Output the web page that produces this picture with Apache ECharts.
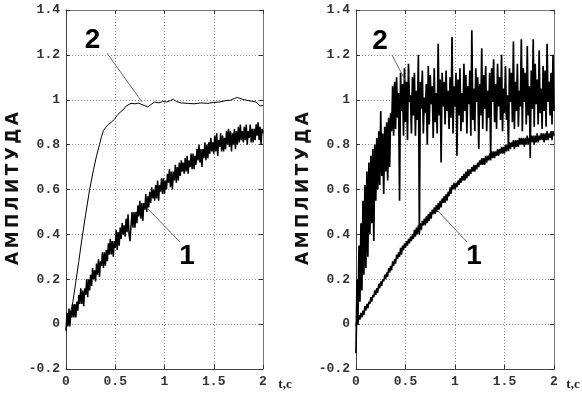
<!DOCTYPE html>
<html>
<head>
<meta charset="utf-8">
<script src="https://cdn.jsdelivr.net/npm/echarts@6/dist/echarts.min.js"></script>
<style>
html,body{margin:0;padding:0;background:#fff}
#main{width:582px;height:395px}
</style>
</head>
<body>
<div id="main"></div>
<script>
// sample step of the recorded signals, seconds
var tStep = 0.01;

// left panel, curve 1 (noisy, slow)
var left1 = [
 -0.03,0.05,-0.01,0.07,-0.01,0.06,0.03,0.09,0.03,0.09,
 0.03,0.10,0.06,0.13,0.09,0.16,0.09,0.15,0.08,0.16,
 0.13,0.20,0.12,0.20,0.15,0.22,0.17,0.25,0.20,0.24,
 0.19,0.27,0.22,0.29,0.21,0.28,0.26,0.32,0.25,0.32,
 0.26,0.33,0.28,0.36,0.31,0.38,0.31,0.37,0.30,0.37,
 0.34,0.42,0.33,0.41,0.35,0.43,0.38,0.45,0.40,0.44,
 0.39,0.47,0.41,0.49,0.40,0.37,0.44,0.50,0.43,0.50,
 0.43,0.50,0.45,0.53,0.48,0.55,0.47,0.54,0.46,0.54,
 0.51,0.58,0.50,0.57,0.52,0.59,0.54,0.61,0.56,0.60,
 0.55,0.62,0.56,0.64,0.55,0.62,0.59,0.65,0.58,0.65,
 0.58,0.64,0.60,0.67,0.63,0.69,0.61,0.68,0.60,0.68,
 0.64,0.71,0.63,0.70,0.64,0.72,0.66,0.73,0.68,0.72,
 0.67,0.74,0.68,0.75,0.67,0.73,0.70,0.76,0.69,0.76,
 0.69,0.75,0.71,0.78,0.73,0.80,0.72,0.78,0.70,0.78,
 0.74,0.81,0.73,0.80,0.74,0.81,0.76,0.83,0.77,0.81,
 0.76,0.84,0.77,0.85,0.75,0.82,0.79,0.85,0.77,0.84,
 0.77,0.83,0.78,0.86,0.80,0.87,0.79,0.86,0.77,0.85,
 0.80,0.87,0.78,0.86,0.80,0.88,0.81,0.89,0.82,0.86,
 0.81,0.88,0.82,0.89,0.80,0.86,0.83,0.89,0.81,0.87,
 0.81,0.87,0.82,0.89,0.84,0.90,0.82,0.88,0.80,0.87,
 0.85
];

// left panel, curve 2 (smooth, fast) as [t, value]
var left2 = [
 [0,-0.02],[0.03,0.02],[0.07,0.10],[0.10,0.19],[0.13,0.28],[0.16,0.375],
 [0.20,0.49],[0.24,0.60],[0.28,0.69],[0.31,0.75],[0.34,0.80],[0.36,0.835],
 [0.38,0.862],[0.40,0.875],[0.43,0.89],[0.46,0.90],[0.49,0.912],[0.52,0.93],
 [0.55,0.945],[0.58,0.955],[0.61,0.972],[0.63,0.98],[0.66,0.984],[0.70,0.982],
 [0.74,0.985],[0.77,0.978],[0.80,0.974],[0.83,0.968],[0.86,0.978],[0.90,0.99],
 [0.94,0.986],[0.98,0.992],[1.02,0.99],[1.06,0.996],[1.09,1.002],[1.12,0.992],
 [1.17,0.986],[1.23,0.984],[1.30,0.982],[1.37,0.986],[1.44,0.984],[1.50,0.988],
 [1.56,0.99],[1.62,0.996],[1.67,0.998],[1.71,1.006],[1.74,1.01],[1.78,1.004],
 [1.83,0.998],[1.88,0.994],[1.93,0.99],[1.97,0.972],[2.0,0.975]
];

// right panel, curve 1 (noisy, slow)
var right1 = [
 -0.01,0.02,0.00,0.04,0.02,0.05,0.03,0.06,0.04,0.08,
 0.06,0.09,0.07,0.10,0.09,0.12,0.10,0.13,0.12,0.15,
 0.13,0.16,0.14,0.18,0.16,0.19,0.17,0.20,0.19,0.22,
 0.20,0.23,0.21,0.25,0.23,0.26,0.24,0.28,0.26,0.29,
 0.27,0.31,0.29,0.32,0.30,0.34,0.31,0.35,0.33,0.36,
 0.34,0.37,0.35,0.38,0.36,0.39,0.37,0.40,0.38,0.42,
 0.39,0.43,0.40,0.44,0.41,0.45,0.42,0.46,0.44,0.47,
 0.44,0.48,0.45,0.49,0.46,0.50,0.47,0.51,0.49,0.52,
 0.49,0.53,0.50,0.54,0.51,0.55,0.52,0.56,0.54,0.57,
 0.54,0.58,0.55,0.59,0.57,0.61,0.58,0.62,0.60,0.63,
 0.60,0.63,0.61,0.64,0.62,0.65,0.63,0.66,0.64,0.67,
 0.64,0.68,0.65,0.69,0.66,0.69,0.67,0.70,0.68,0.71,
 0.68,0.71,0.69,0.72,0.70,0.73,0.71,0.74,0.71,0.74,
 0.71,0.75,0.72,0.75,0.73,0.76,0.73,0.77,0.74,0.77,
 0.74,0.77,0.75,0.78,0.75,0.78,0.76,0.79,0.76,0.79,
 0.76,0.80,0.77,0.80,0.78,0.81,0.78,0.81,0.79,0.82,
 0.78,0.82,0.79,0.82,0.79,0.83,0.80,0.83,0.80,0.83,
 0.79,0.83,0.80,0.84,0.80,0.83,0.81,0.84,0.81,0.84,
 0.80,0.84,0.81,0.85,0.81,0.84,0.82,0.85,0.82,0.85,
 0.81,0.85,0.82,0.86,0.82,0.85,0.83,0.86,0.82,0.86,
 0.84
];

// right panel, curve 2 (very noisy, fast)
var right2 = [
 -0.13,0.20,0.02,0.35,0.10,0.45,0.15,0.55,0.22,0.62,
 0.25,0.68,0.30,0.72,0.40,0.75,0.45,0.78,0.37,0.80,
 0.55,0.83,0.60,0.86,0.62,0.95,0.66,0.85,0.58,0.88,
 0.68,0.90,0.64,0.92,0.70,0.94,0.86,1.06,0.84,1.08,
 0.87,1.10,0.92,1.03,0.55,1.12,0.95,1.07,0.84,1.14,
 0.90,1.08,0.82,1.16,0.99,1.02,0.85,1.10,0.93,1.12,
 0.84,1.04,0.91,1.20,0.40,1.08,0.96,1.13,0.85,1.01,
 0.94,1.07,0.80,1.15,0.89,1.11,0.98,1.06,0.83,1.14,
 0.90,1.03,0.85,1.25,0.93,1.09,0.72,1.12,0.97,1.08,
 0.89,1.13,0.95,1.04,0.87,1.10,0.92,1.28,0.85,1.06,
 0.97,1.12,0.75,1.09,0.93,1.14,0.86,1.03,0.90,1.16,
 0.95,1.11,0.85,1.06,0.98,1.13,0.84,1.31,0.91,1.05,
 0.86,1.14,0.99,1.10,0.78,1.07,0.93,1.23,0.87,1.11,
 0.96,1.15,0.86,1.04,0.92,1.12,0.74,1.14,0.99,1.18,
 0.90,1.07,0.87,1.16,0.97,1.10,0.91,1.20,0.86,1.05,
 0.94,1.15,0.91,1.02,0.77,1.14,0.99,1.12,0.90,1.26,
 0.87,1.08,0.95,1.16,0.88,1.04,0.97,1.27,0.86,1.14,
 0.99,1.12,0.89,1.24,0.93,1.06,0.74,1.13,0.96,1.27,
 0.88,1.16,0.98,1.09,0.89,1.22,0.94,1.05,0.87,1.15,
 0.95,1.13,0.88,1.25,0.99,1.08,0.93,1.12,0.89,1.20,
 0.95
];

// callouts: [label, text pos, leader start, leader end] in data units
var leftNotes = [
 ['2', [0.27, 1.266], [0.416, 1.208], [0.772, 0.990]],
 ['1', [1.23, 0.304], [0.822, 0.518], [1.157, 0.366]]
];
var rightNotes = [
 ['2', [0.242, 1.262], [0.364, 1.199], [0.495, 1.088]],
 ['1', [1.192, 0.304], [0.818, 0.509], [1.121, 0.366]]
];

var yTitle = 'А\u2009М\u2009П\u2009Л\u2009И\u2009Т\u2009У\u2009Д\u2009А';
var xTitle = 't,c';

function withTime(vals) {
  return vals.map(function (v, i) { return [+(i * tStep).toFixed(2), v]; });
}

var myChart = echarts.init(document.getElementById('main'));

var labelFont = {
  fontFamily: '"Liberation Mono", monospace',
  fontWeight: 'bold',
  fontSize: 13,
  color: '#333'
};

function mainX(g) {
  return {
    type: 'value', gridIndex: g, min: 0, max: 2, interval: 0.5,
    axisLine: {show: true, onZero: false, lineStyle: {color: '#444'}},
    axisTick: {show: true, inside: true, length: 4, lineStyle: {color: '#333'}},
    axisLabel: Object.assign({margin: 6}, labelFont),
    splitLine: {show: true, lineStyle: {color: '#8a8a8a', type: [1, 2]}}
  };
}
function topX(g) {
  return {
    type: 'value', gridIndex: g, position: 'top', min: 0, max: 2, interval: 0.5,
    axisLine: {show: true, onZero: false, lineStyle: {color: '#777'}},
    axisTick: {show: true, inside: true, length: 4, lineStyle: {color: '#333'}},
    axisLabel: {show: false}, splitLine: {show: false}
  };
}
function mainY(g) {
  return {
    type: 'value', gridIndex: g, min: -0.2, max: 1.4, interval: 0.2,
    axisLine: {show: true, onZero: false, lineStyle: {color: '#444'}},
    axisTick: {show: true, inside: true, length: 4, lineStyle: {color: '#333'}},
    axisLabel: Object.assign({margin: 6}, labelFont),
    splitLine: {show: true, lineStyle: {color: '#8a8a8a', type: [1, 2]}}
  };
}
function rightY(g) {
  return {
    type: 'value', gridIndex: g, position: 'right', min: -0.2, max: 1.4, interval: 0.2,
    axisLine: {show: true, onZero: false, lineStyle: {color: '#777'}},
    axisTick: {show: true, inside: true, length: 4, lineStyle: {color: '#333'}},
    axisLabel: {show: false}, splitLine: {show: false}
  };
}

function trace(data, g, w) {
  return {
    type: 'line', xAxisIndex: g, yAxisIndex: g, data: data,
    showSymbol: false, symbol: 'none', silent: true,
    lineStyle: {color: '#000', width: w}
  };
}

var option = {
  animation: false,
  backgroundColor: '#fff',
  grid: [
    {left: 66, top: 10, width: 197, height: 359},
    {left: 356, top: 10, width: 198, height: 359}
  ],
  xAxis: [mainX(0), mainX(1), topX(0), topX(1)],
  yAxis: [mainY(0), mainY(1), rightY(0), rightY(1)],
  series: [
    trace(withTime(left1), 0, 1.5),
    trace(left2, 0, 1),
    trace(withTime(right1), 1, 1.5),
    trace(withTime(right2), 1, 1.7)
  ]
};

myChart.setOption(option);

// titles and callouts
var gfx = [];
[[14, 0], [304, 1]].forEach(function (p) {
  gfx.push({
    type: 'text', x: p[0], y: 188.5, rotation: Math.PI / 2,
    style: {text: yTitle, font: 'bold 17px "DejaVu Sans"', fill: '#111',
      textAlign: 'center', textVerticalAlign: 'middle'}
  });
});
[[285, 385], [573, 385]].forEach(function (p) {
  gfx.push({
    type: 'text', x: p[0], y: p[1],
    style: {text: xTitle, font: 'bold 13px "Liberation Serif"', fill: '#222',
      textAlign: 'center', textVerticalAlign: 'middle'}
  });
});
[[leftNotes, 0], [rightNotes, 1]].forEach(function (set) {
  set[0].forEach(function (n) {
    var tp = myChart.convertToPixel({gridIndex: set[1]}, n[1]);
    var a = myChart.convertToPixel({gridIndex: set[1]}, n[2]);
    var b = myChart.convertToPixel({gridIndex: set[1]}, n[3]);
    gfx.push({
      type: 'line', shape: {x1: a[0], y1: a[1], x2: b[0], y2: b[1]},
      style: {stroke: '#666', lineWidth: 1}, z: 10
    });
    gfx.push({
      type: 'text', x: tp[0], y: tp[1], z: 10,
      style: {text: n[0], font: 'bold 28px "Liberation Sans"', fill: '#000',
        textAlign: 'center', textVerticalAlign: 'middle'}
    });
  });
});
myChart.setOption({graphic: gfx});
</script>
</body>
</html>
